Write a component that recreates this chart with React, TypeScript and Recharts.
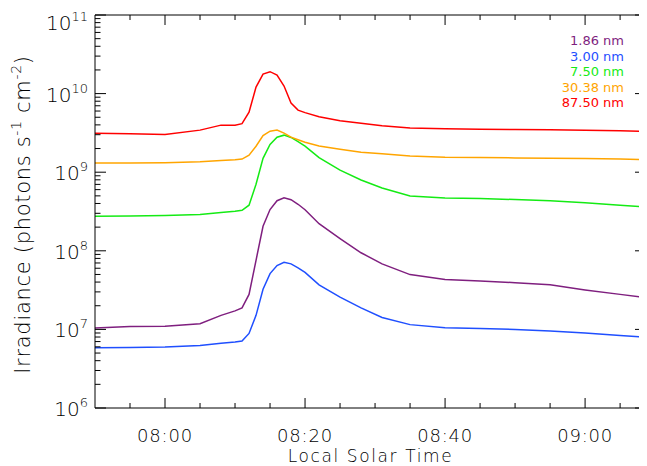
import React from "react";
import { LineChart, Line, XAxis, YAxis, Legend, ReferenceLine } from "recharts";

// minutes after midnight (local solar time)
const times = [470, 475, 480, 485, 488, 490, 491, 492, 493, 494, 495, 496, 497, 498, 499, 500, 502, 505, 508, 511, 515, 520, 525, 530, 535, 540, 545, 548.7];

const nm186 = [1.04e7, 1.09e7, 1.1e7, 1.18e7, 1.51e7, 1.72e7, 1.88e7, 2.79e7, 7.57e7, 2.05e8, 3.35e8, 4.34e8, 4.73e8, 4.47e8, 3.91e8, 3.33e8, 2.21e8, 1.43e8, 9.44e7, 6.82e7, 4.98e7, 4.31e7, 4.12e7, 3.93e7, 3.69e7, 3.18e7, 2.79e7, 2.54e7];
const nm300 = [5.85e6, 5.9e6, 5.96e6, 6.25e6, 6.68e6, 6.93e6, 7.1e6, 8.89e6, 1.51e7, 3.24e7, 5.13e7, 6.5e7, 7.14e7, 6.82e7, 6.07e7, 5.32e7, 3.69e7, 2.58e7, 1.88e7, 1.42e7, 1.15e7, 1.05e7, 1.03e7, 1.0e7, 9.57e6, 9.02e6, 8.39e6, 7.98e6];
const nm750 = [2.75e8, 2.77e8, 2.82e8, 2.89e8, 3.07e8, 3.18e8, 3.28e8, 3.8e8, 7.03e8, 1.5e9, 2.25e9, 2.79e9, 2.96e9, 2.77e9, 2.45e9, 2.14e9, 1.53e9, 1.06e9, 7.96e8, 6.31e8, 4.99e8, 4.69e8, 4.62e8, 4.49e8, 4.34e8, 4.09e8, 3.8e8, 3.61e8];
const nm3038 = [1.31e9, 1.31e9, 1.32e9, 1.36e9, 1.41e9, 1.44e9, 1.47e9, 1.65e9, 2.14e9, 2.92e9, 3.33e9, 3.43e9, 3.14e9, 2.79e9, 2.59e9, 2.41e9, 2.16e9, 1.96e9, 1.8e9, 1.72e9, 1.61e9, 1.55e9, 1.54e9, 1.52e9, 1.51e9, 1.49e9, 1.47e9, 1.45e9];
const nm8750 = [3.14e9, 3.09e9, 3.01e9, 3.43e9, 3.97e9, 3.97e9, 4.15e9, 5.81e9, 1.21e10, 1.77e10, 1.9e10, 1.72e10, 1.25e10, 7.57e9, 6.17e9, 5.73e9, 5.09e9, 4.51e9, 4.21e9, 3.91e9, 3.66e9, 3.58e9, 3.53e9, 3.5e9, 3.46e9, 3.43e9, 3.36e9, 3.3e9];

const seriesNames = ["1.86 nm", "3.00 nm", "7.50 nm", "30.38 nm", "87.50 nm"];
const seriesColors = ["#7f1f7f", "#1f4fff", "#14eb14", "#ffa500", "#ff0000"];
const seriesValues = [nm186, nm300, nm750, nm3038, nm8750];

const xTicks = [475, 480, 485, 490, 495, 500, 505, 510, 515, 520, 525, 530, 535, 540, 545];
const xMajor = [480, 500, 520, 540];
const yDecades = [6, 7, 8, 9, 10];
const yMinors = [1, 2, 3, 4, 5, 6, 7, 8, 9];

const rows = times.map((t, i) => {
  const row: Record<string, number> = { t };
  seriesNames.forEach((n, k) => (row[n] = seriesValues[k][i]));
  return row;
});

const yTicks = [...yDecades.flatMap((e) => yMinors.map((k) => k * Math.pow(10, e))), 1e11];

// svg sits at the body's 8px margin; plot box in svg pixels
const W = 639;
const H = 458;
const PL = 87;
const PT = 7;
const PR = 638;
const PB = 400;
const FONT = "'DejaVu Sans', sans-serif";

const fmtTime = (m: number) =>
  `${String(Math.floor(m / 60)).padStart(2, "0")}:${String(m % 60).padStart(2, "0")}`;

const XTick = (props: any) => {
  const { x, payload } = props;
  const v = payload.value;
  const major = xMajor.includes(v);
  const len = major ? 10 : 5;
  return (
    <g>
      <line x1={x} x2={x} y1={PB} y2={PB - len} stroke="#000" />
      <line x1={x} x2={x} y1={PT} y2={PT + len} stroke="#000" />
      {major && (
        <text x={x} y={PB + 34} textAnchor="middle" fontSize={18} letterSpacing={0.8} fontWeight={300} fontFamily={FONT} fill="#000">
          {fmtTime(v)}
        </text>
      )}
    </g>
  );
};

const YTick = (props: any) => {
  const { y, payload } = props;
  const v = payload.value;
  const exp = Math.round(Math.log10(v));
  const major = Math.abs(v - Math.pow(10, exp)) < 1e-6 * v;
  const len = major ? 11 : 5.5;
  // the top label sits a little lower so it stays inside the page
  const base = exp === 11 ? y + 15 : y + 8;
  return (
    <g>
      <line x1={PL} x2={PL + len} y1={y} y2={y} stroke="#000" />
      <line x1={PR - len} x2={PR} y1={y} y2={y} stroke="#000" />
      {major && (
        <text x={PL - 7} y={base} textAnchor="end" fontSize={20} fontWeight={300} fontFamily={FONT} fill="#000">
          10
          <tspan dy={-9} fontSize={13}>
            {exp}
          </tspan>
        </text>
      )}
    </g>
  );
};

const XTitle = () => (
  <text x={(PL + PR) / 2} y={PB + 54} textAnchor="middle" fontSize={17} letterSpacing={1.6} fontWeight={300} fontFamily={FONT} fill="#000">
    Local Solar Time
  </text>
);

const YTitle = () => (
  <text
    transform={`translate(22, ${(PT + PB) / 2 + 3}) rotate(-90)`}
    textAnchor="middle"
    fontSize={21}
    letterSpacing={0.7}
    fontWeight={300}
    fontFamily={FONT}
    fill="#000"
  >
    Irradiance (photons s
    <tspan dy={-9} fontSize={14}>
      -1
    </tspan>
    <tspan dy={9}> cm</tspan>
    <tspan dy={-9} fontSize={14}>
      -2
    </tspan>
    <tspan dy={9}>)</tspan>
  </text>
);

const renderLegend = (props: any) => {
  const items = [...(props.payload || [])].sort(
    (a: any, b: any) => seriesNames.indexOf(a.value) - seriesNames.indexOf(b.value)
  );
  return (
    <div style={{ fontFamily: FONT, fontSize: 13, lineHeight: "15.6px", textAlign: "right" }}>
      {items.map((p: any) => (
        <div key={p.value} style={{ color: p.color }}>
          {p.value}
        </div>
      ))}
    </div>
  );
};

export default function App() {
  return (
    <div style={{ width: W, height: H }}>
      <LineChart width={W} height={H} data={rows} margin={{ top: PT, right: W - PR, bottom: 0, left: 0 }}>
        <XAxis
          dataKey="t"
          type="number"
          domain={[470, 548.7]}
          allowDataOverflow
          ticks={xTicks}
          interval={0}
          tickSize={0}
          tickLine={false}
          tick={<XTick />}
          axisLine={{ stroke: "#000" }}
          height={H - PB}
          label={<XTitle />}
        />
        <YAxis
          type="number"
          scale="log"
          domain={[1e6, 1e11]}
          allowDataOverflow
          ticks={yTicks}
          interval={0}
          tickSize={0}
          tickLine={false}
          tick={<YTick />}
          axisLine={{ stroke: "#000" }}
          width={PL}
          label={<YTitle />}
        />
        <ReferenceLine y={1e11} stroke="#000" />
        <ReferenceLine x={548.7} stroke="#000" />
        <Legend
          layout="vertical"
          align="center"
          verticalAlign="middle"
          itemSorter={(item: any) => seriesNames.indexOf(item.value)}
          content={renderLegend}
          wrapperStyle={{ top: 25, left: 516, width: 100 }}
        />
        {seriesNames.map((n, k) => (
          <Line
            key={n}
            type="linear"
            dataKey={n}
            name={n}
            stroke={seriesColors[k]}
            strokeWidth={1.5}
            dot={false}
            isAnimationActive={false}
          />
        ))}
      </LineChart>
    </div>
  );
}
